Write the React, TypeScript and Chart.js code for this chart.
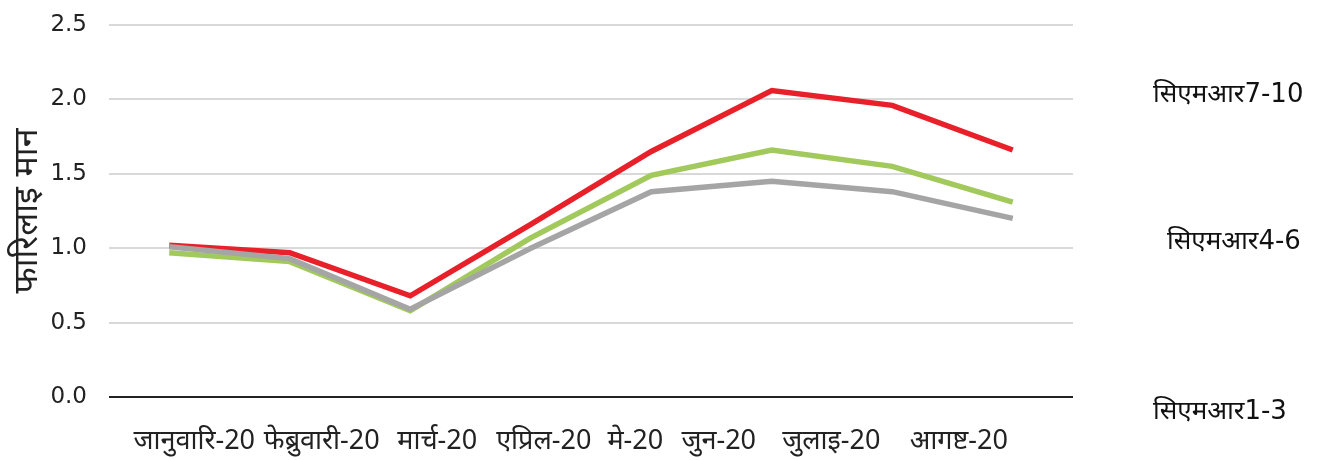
import React, { useEffect, useRef } from "react";
import { Chart, registerables } from "chart.js";

Chart.register(...registerables);

const categories = ["जानुवारि-20", "फेब्रुवारी-20", "मार्च-20", "एप्रिल-20", "मे-20", "जुन-20", "जुलाइ-20", "आगष्ट-20"];
const cmr7to10 = [1.02, 0.97, 0.68, 1.16, 1.65, 2.06, 1.96, 1.66];
const cmr4to6 = [0.97, 0.91, 0.58, 1.07, 1.49, 1.66, 1.55, 1.31];
const cmr1to3 = [1.01, 0.93, 0.59, 1.0, 1.38, 1.45, 1.38, 1.2];
const seriesNames = ["सिएमआर7-10", "सिएमआर4-6", "सिएमआर1-3"];
const yTitle = "फारिलाइ मान";

const FONT = "'DejaVu Sans', 'Noto Sans', sans-serif";
const XFONT = "'Noto Sans', 'DejaVu Sans', sans-serif";

// horizontal nudges of the category labels relative to their tick, as in the reference
const labelShift = [25, 32, 27, 13, -16, -53, -61, -54];

const customText = {
  id: "customText",
  afterDraw(chart: any) {
    const ctx = chart.ctx;
    ctx.save();
    // category labels
    const xs = chart.scales.x;
    ctx.fillStyle = "#222";
    ctx.font = `27px ${XFONT}`;
    ctx.textAlign = "center";
    ctx.textBaseline = "middle";
    categories.forEach((t, i) => {
      ctx.fillText(t, xs.getPixelForTick(i) + labelShift[i], 441);
    });
    // series names at the right
    const pos = [
      { x: 1153, y: 95 },
      { x: 1167, y: 242 },
      { x: 1153, y: 412 },
    ];
    ctx.fillStyle = "#111";
    ctx.font = `26px ${FONT}`;
    ctx.textAlign = "left";
    seriesNames.forEach((t, i) => ctx.fillText(t, pos[i].x, pos[i].y));
    ctx.restore();
  },
};

export default function App() {
  const ref = useRef<HTMLCanvasElement>(null);
  useEffect(() => {
    document.body.style.margin = "0";
    const chart = new Chart(ref.current!, {
      type: "line",
      data: {
        labels: categories,
        datasets: [
          { label: seriesNames[0], data: cmr7to10, borderColor: "#E8202A", backgroundColor: "#E8202A" },
          { label: seriesNames[1], data: cmr4to6, borderColor: "#A2C95C", backgroundColor: "#A2C95C" },
          { label: seriesNames[2], data: cmr1to3, borderColor: "#A5A5A5", backgroundColor: "#A5A5A5" },
        ].map((d) => ({ ...d, borderWidth: 5.5, pointRadius: 0, tension: 0, borderJoinStyle: "miter" as const })).reverse(),
      },
      options: {
        animation: false,
        responsive: false,
        layout: { padding: { left: 0, right: 247, top: 25, bottom: 0 } },
        plugins: { legend: { display: false }, tooltip: { enabled: false } },
        scales: {
          x: {
            offset: true,
            grid: { display: false },
            border: { display: false },
            ticks: { display: false, autoSkip: false },
            afterFit: (s: any) => { s.height = 63; s.paddingLeft = 0; s.paddingRight = 0; },
          },
          y: {
            min: 0,
            max: 2.5,
            ticks: { stepSize: 0.5, color: "#222", font: { family: FONT, size: 23 }, padding: 22, callback: (v: any) => Number(v).toFixed(1) },
            grid: {
              drawTicks: false,
              color: (c: any) => (c.tick && c.tick.value === 0 ? "#222" : "#d9d9d9"),
              lineWidth: 2,
            },
            border: { display: false },
            title: { display: true, text: yTitle, color: "#222", font: { family: FONT, size: 34 }, padding: { top: 8, bottom: 0 } },
            afterFit: (s: any) => { s.width = 109; s.paddingTop = 0; s.paddingBottom = 0; },
          },
        },
      },
      plugins: [customText],
    });
    return () => chart.destroy();
  }, []);
  return (
    <div style={{ position: "absolute", left: 0, top: 0, width: 1320, height: 460, background: "#fff" }}>
      <canvas ref={ref} width={1320} height={460} />
    </div>
  );
}
